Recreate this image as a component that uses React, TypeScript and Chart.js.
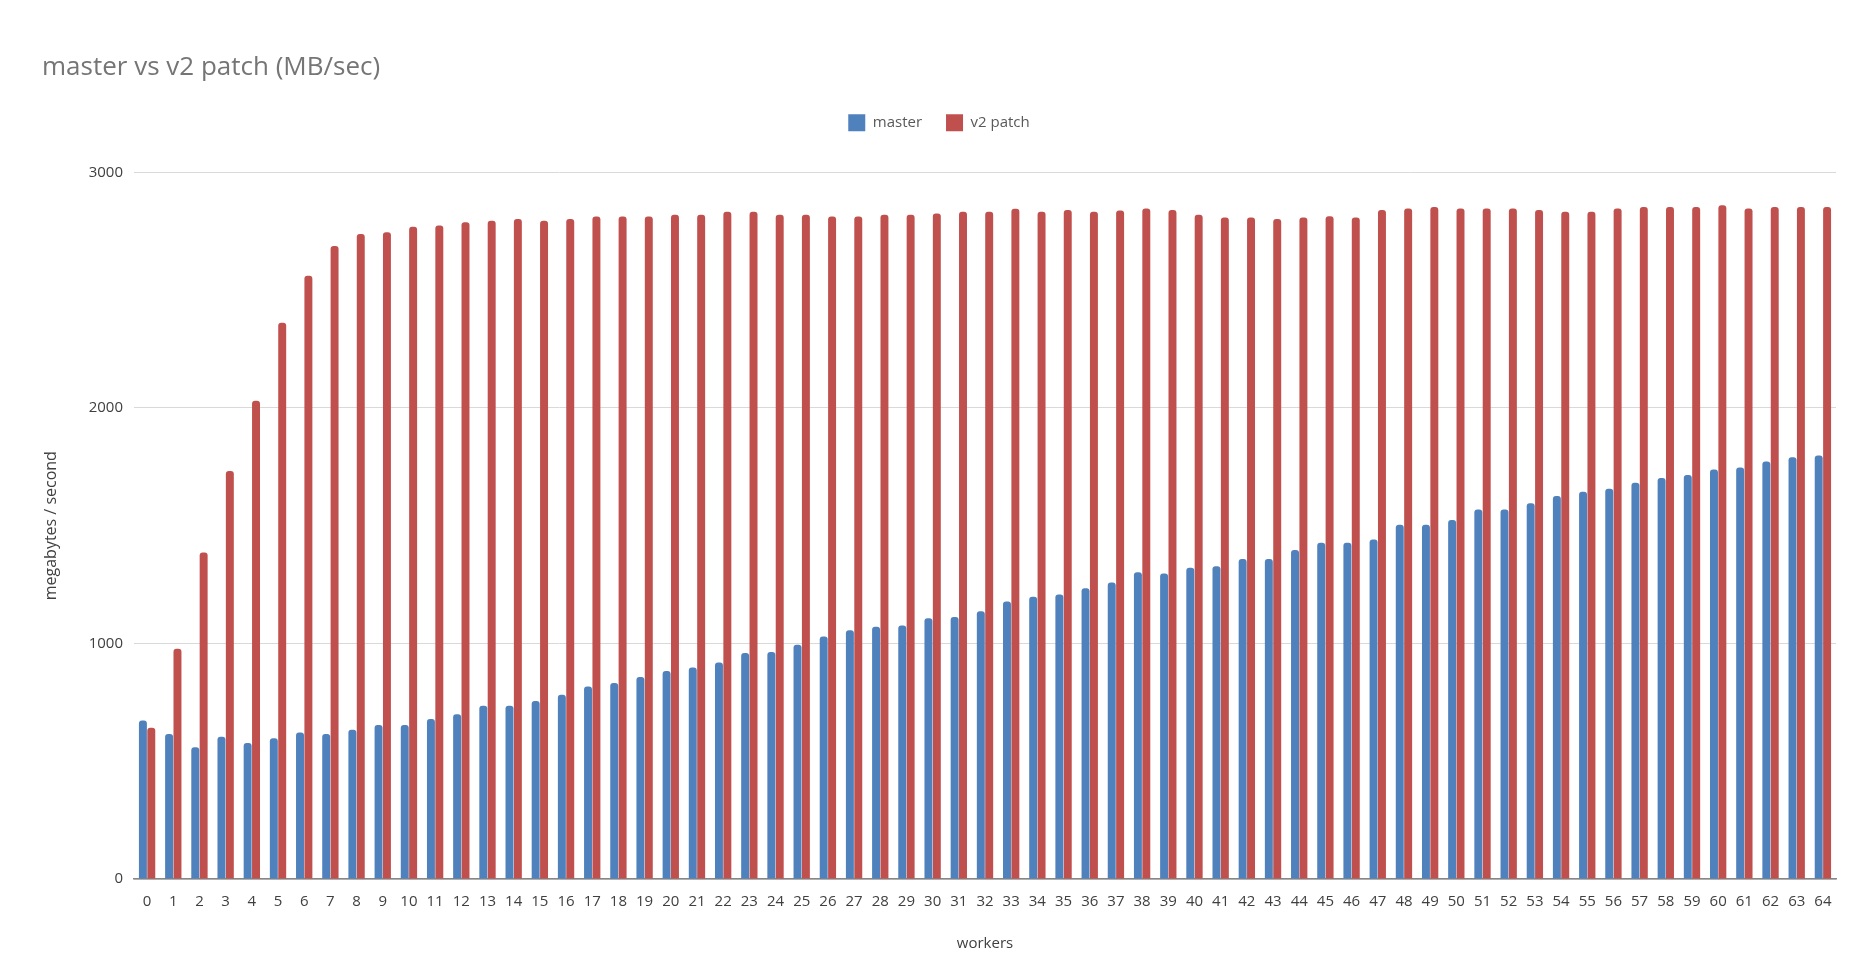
import React, { useEffect, useRef } from "react";
import { Chart, registerables } from "chart.js";

Chart.register(...registerables);

const workers: string[] = [
  "0", "1", "2", "3", "4", "5", "6", "7", "8", "9",
  "10", "11", "12", "13", "14", "15", "16", "17", "18", "19",
  "20", "21", "22", "23", "24", "25", "26", "27", "28", "29",
  "30", "31", "32", "33", "34", "35", "36", "37", "38", "39",
  "40", "41", "42", "43", "44", "45", "46", "47", "48", "49",
  "50", "51", "52", "53", "54", "55", "56", "57", "58", "59",
  "60", "61", "62", "63", "64",
];

const masterValues: number[] = [
  673, 616, 559, 604, 577, 598, 622, 616, 634, 654,
  654, 679, 699, 736, 736, 756, 782, 817, 832, 858,
  883, 898, 919, 959, 964, 995, 1030, 1056, 1071, 1076,
  1107, 1112, 1137, 1178, 1198, 1208, 1234, 1259, 1302, 1297,
  1321, 1328, 1359, 1359, 1397, 1428, 1428, 1441, 1504, 1504,
  1524, 1569, 1569, 1595, 1626, 1644, 1657, 1682, 1702, 1715,
  1739, 1747, 1773, 1791, 1798,
];

const v2PatchValues: number[] = [
  642, 978, 1386, 1732, 2030, 2362, 2561, 2687, 2738, 2746,
  2769, 2775, 2788, 2795, 2802, 2795, 2802, 2813, 2813, 2813,
  2820, 2820, 2833, 2833, 2820, 2820, 2813, 2813, 2820, 2820,
  2826, 2833, 2833, 2846, 2833, 2840, 2833, 2838, 2847, 2840,
  2820, 2809, 2809, 2802, 2809, 2814, 2809, 2840, 2847, 2853,
  2847, 2847, 2847, 2840, 2833, 2833, 2847, 2853, 2853, 2853,
  2860, 2847, 2853, 2853, 2853,
];

const seriesNames: string[] = ["master", "v2 patch"];
const yTickValues: number[] = [0, 1000, 2000, 3000];

const FONT = "'Open Sans', 'Noto Sans', sans-serif";

export default function App() {
  const canvasRef = useRef<HTMLCanvasElement | null>(null);

  useEffect(() => {
    if (!canvasRef.current) return;
    const chart = new Chart(canvasRef.current, {
      type: "bar",
      data: {
        labels: workers,
        datasets: [
          {
            label: seriesNames[0],
            data: masterValues,
            backgroundColor: "#4f81bd",
            borderWidth: 0,
            borderRadius: 3,
            categoryPercentage: 0.64,
            barPercentage: 0.95,
          },
          {
            label: seriesNames[1],
            data: v2PatchValues,
            backgroundColor: "#c0504d",
            borderWidth: 0,
            borderRadius: 3,
            categoryPercentage: 0.64,
            barPercentage: 0.95,
          },
        ],
      },
      options: {
        responsive: false,
        animation: false,
        devicePixelRatio: 1,
        layout: { padding: { left: 42, right: 34, top: 0, bottom: 0 } },
        plugins: {
          tooltip: { enabled: false },
          title: {
            display: true,
            text: "master vs v2 patch (MB/sec)",
            align: "start",
            color: "#757575",
            font: { family: FONT, size: 26, weight: "normal" },
            padding: { top: 52, bottom: 7 },
          },
          legend: {
            display: true,
            position: "top",
            weight: 1800,
            labels: {
              boxWidth: 17,
              boxHeight: 17,
              padding: 24,
              color: "#595959",
              font: { family: FONT, size: 15 },
            },
          },
          subtitle: {
            display: true,
            text: "",
            weight: 1500,
            padding: { top: 0, bottom: 0 },
            font: { family: FONT, size: 26 },
          },
        },
        scales: {
          x: {
            grid: { display: false, drawTicks: false },
            border: { display: true, color: "#868686", width: 1.5 },
            ticks: {
              color: "#404040",
              font: { family: FONT, size: 15 },
              padding: 14,
              maxRotation: 0,
              autoSkip: false,
            },
            title: {
              display: true,
              text: "workers",
              color: "#404040",
              font: { family: FONT, size: 15 },
              padding: { top: 0, bottom: 14 },
            },
            afterFit: (scale: any) => {
              scale.height = 88;
            },
          },
          y: {
            min: 0,
            max: 3000,
            afterBuildTicks: (scale: any) => {
              scale.ticks = yTickValues.map((v) => ({ value: v }));
            },
            grid: {
              color: "#d9d9d9",
              lineWidth: 1,
              drawTicks: false,
            },
            border: { display: false },
            ticks: {
              color: "#404040",
              font: { family: FONT, size: 15 },
              padding: 11,
              callback: (value: any) => String(value),
            },
            title: {
              display: true,
              text: "megabytes / second",
              color: "#404040",
              font: { family: FONT, size: 16 },
              padding: { top: 0, bottom: 0 },
            },
            afterFit: (scale: any) => {
              scale.width = 92;
            },
          },
        },
      },
    });
    return () => chart.destroy();
  }, []);

  return (
    <div style={{ position: "fixed", left: 0, top: 0, width: 1870, height: 967, background: "#fff" }}>
      <canvas ref={canvasRef} width={1870} height={967} style={{ width: 1870, height: 967, display: "block" }} />
    </div>
  );
}
